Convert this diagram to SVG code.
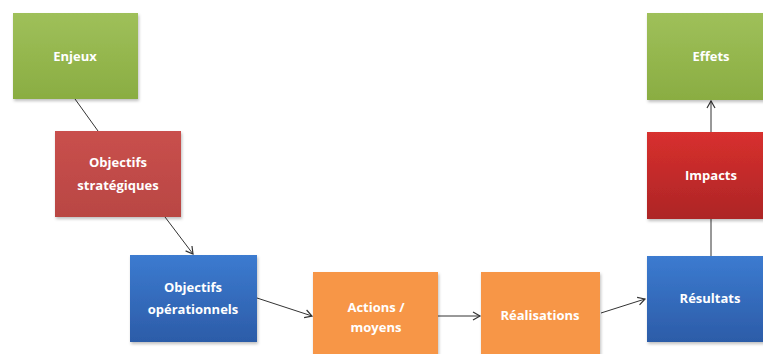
<svg xmlns="http://www.w3.org/2000/svg" width="763" height="354" viewBox="0 0 763 354">
<defs>
<linearGradient id="gG" x1="0" y1="0" x2="0" y2="1"><stop offset="0" stop-color="#9fc05a"/><stop offset="1" stop-color="#8aad42"/></linearGradient>
<linearGradient id="gR" x1="0" y1="0" x2="0" y2="1"><stop offset="0" stop-color="#c9504d"/><stop offset="1" stop-color="#b94643"/></linearGradient>
<linearGradient id="gR2" x1="0" y1="0" x2="0" y2="1"><stop offset="0" stop-color="#d8302e"/><stop offset="1" stop-color="#ad2526"/></linearGradient>
<linearGradient id="gB" x1="0" y1="0" x2="0" y2="1"><stop offset="0" stop-color="#3c7bd0"/><stop offset="1" stop-color="#2c5ca8"/></linearGradient>
<marker id="ah" markerWidth="10" markerHeight="10" refX="8" refY="5" orient="auto" markerUnits="userSpaceOnUse"><path d="M1,1 L8,5 L1,9" fill="none" stroke="#333" stroke-width="1.2"/></marker>
<filter id="sh" x="-10%" y="-10%" width="125%" height="125%"><feDropShadow dx="1" dy="2" stdDeviation="1.5" flood-color="#000" flood-opacity="0.25"/></filter>
</defs>
<style>
.t{font-family:"Open Sans","Liberation Sans",sans-serif;font-weight:bold;font-size:13px;fill:#fff;text-anchor:middle}
.c{stroke:#333;stroke-width:1;fill:none}
</style>
<rect width="763" height="354" fill="#fff"/>
<g id="connectors">
<line class="c" x1="75" y1="99" x2="98" y2="131"/>
<line class="c" x1="165" y1="217" x2="193" y2="254" marker-end="url(#ah)"/>
<line class="c" x1="257" y1="298" x2="312" y2="316" marker-end="url(#ah)"/>
<line class="c" x1="438" y1="316" x2="480" y2="316" marker-end="url(#ah)"/>
<line class="c" x1="601" y1="313" x2="645" y2="299" marker-end="url(#ah)"/>
<line class="c" x1="711" y1="256" x2="711" y2="219"/>
<line class="c" x1="711" y1="132" x2="711" y2="101" marker-end="url(#ah)"/>
</g>
<g id="enjeux"><rect x="13" y="13" width="125" height="86" fill="url(#gG)" filter="url(#sh)"/><text class="t" x="75" y="61">Enjeux</text></g>
<g id="objectifs-strategiques"><rect x="55" y="131" width="126" height="86" fill="url(#gR)" filter="url(#sh)"/><text class="t" x="118" y="167">Objectifs</text><text class="t" x="118" y="190">stratégiques</text></g>
<g id="objectifs-operationnels"><rect x="130" y="255" width="127" height="87" fill="url(#gB)" filter="url(#sh)"/><text class="t" x="193" y="292">Objectifs</text><text class="t" x="193" y="314">opérationnels</text></g>
<g id="actions-moyens"><rect x="313" y="272" width="125" height="87" fill="#f79646" filter="url(#sh)"/><text class="t" x="376" y="312">Actions /</text><text class="t" x="376" y="332">moyens</text></g>
<g id="realisations"><rect x="481" y="272" width="119" height="87" fill="#f79646" filter="url(#sh)"/><text class="t" x="540" y="320">Réalisations</text></g>
<g id="resultats"><rect x="647" y="256" width="126" height="86" fill="url(#gB)" filter="url(#sh)"/><text class="t" x="710" y="303">Résultats</text></g>
<g id="impacts"><rect x="647" y="132" width="126" height="87" fill="url(#gR2)" filter="url(#sh)"/><text class="t" x="711" y="180">Impacts</text></g>
<g id="effets"><rect x="647" y="13" width="126" height="87" fill="url(#gG)" filter="url(#sh)"/><text class="t" x="711" y="61">Effets</text></g>
</svg>
